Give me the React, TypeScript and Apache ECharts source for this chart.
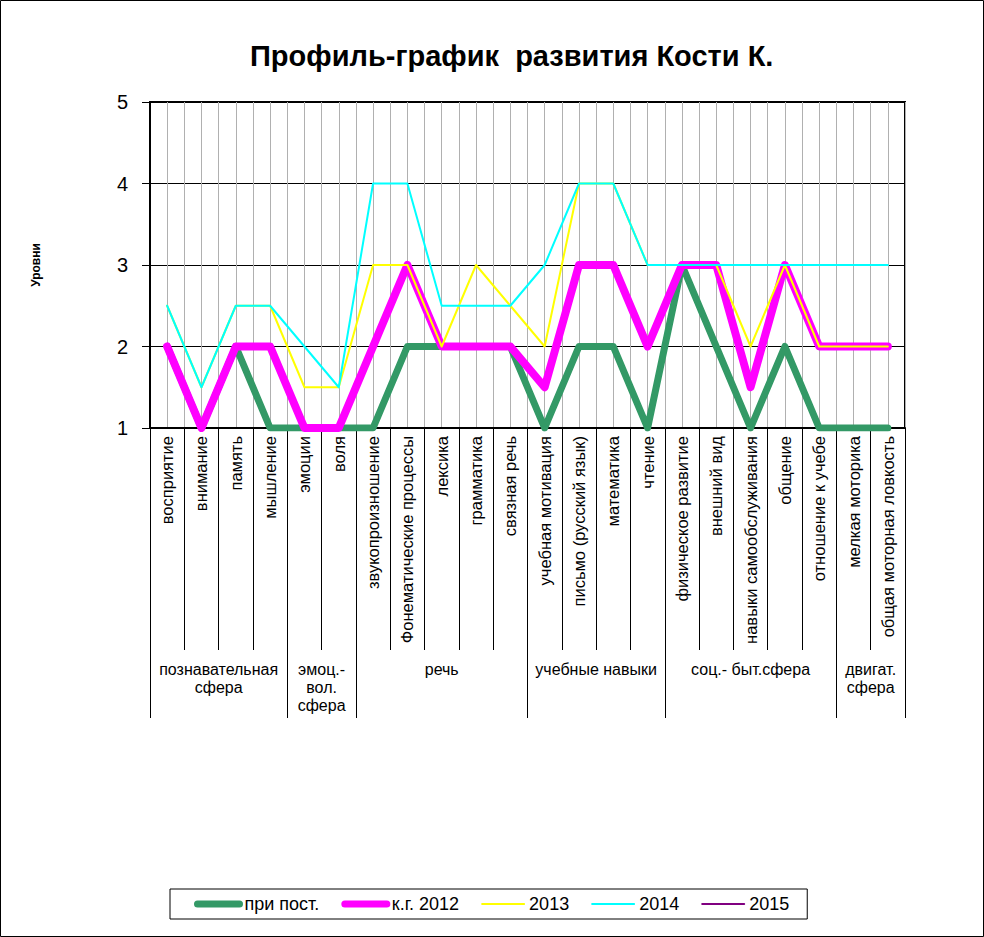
import React, { useEffect, useRef } from "react";
import * as echarts from "echarts";

const categories = [
  "восприятие",
  "внимание",
  "память",
  "мышление",
  "эмоции",
  "воля",
  "звукопроизношение",
  "Фонематические процессы",
  "лексика",
  "грамматика",
  "связная речь",
  "учебная мотивация",
  "письмо (русский язык)",
  "математика",
  "чтение",
  "физическое развитие",
  "внешний вид",
  "навыки самообслуживания",
  "общение",
  "отношение к учебе",
  "мелкая моторика",
  "общая моторная ловкость",
];

const groupNames = [
  "познавательная\nсфера",
  "эмоц.-\nвол.\nсфера",
  "речь",
  "учебные навыки",
  "соц.- быт.сфера",
  "двигат.\nсфера",
];
const groupSizes = [4, 2, 5, 4, 5, 2];

const priPost = [2, 1, 2, 1, 1, 1, 1, 2, 2, 2, 2, 1, 2, 2, 1, 3, 2, 1, 2, 1, 1, 1];
const kg2012 = [2, 1, 2, 2, 1, 1, 2, 3, 2, 2, 2, 1.5, 3, 3, 2, 3, 3, 1.5, 3, 2, 2, 2];
const y2013 = [2.5, 1.5, 2.5, 2.5, 1.5, 1.5, 3, 3, 2, 3, 2.5, 2, 4, 4, 3, 3, 3, 2, 3, 2, 2, 2];
const y2014 = [2.5, 1.5, 2.5, 2.5, 2, 1.5, 4, 4, 2.5, 2.5, 2.5, 3, 4, 4, 3, 3, 3, 3, 3, 3, 3, 3];
const y2015: (number | null)[] = [];

const yTicks = [1, 2, 3, 4, 5];

export default function App() {
  const ref = useRef<HTMLDivElement>(null);
  useEffect(() => {
    document.body.style.margin = "0";
    if (!ref.current) return;
    const chart = echarts.init(ref.current, null, { renderer: "svg" });

    const boundaries: number[] = [0];
    const centers: number[] = [];
    let acc = 0;
    groupSizes.forEach((s) => {
      centers.push(acc + s / 2);
      acc += s;
      boundaries.push(acc);
    });

    const font = "Arial, 'Liberation Sans', sans-serif";

    const mk = (name: string, data: any[], color: string, width: number) => ({
      name,
      type: "line",
      data,
      symbol: "none",
      xAxisIndex: 0,
      yAxisIndex: 0,
      lineStyle: { color, width, cap: "round", join: "round" },
      itemStyle: { color },
    });

    const hidden = { opacity: 0, borderWidth: 0 };

    chart.setOption({
      animation: false,
      backgroundColor: "#fff",
      textStyle: { fontFamily: font },
      title: {
        text: "Профиль-график  развития Кости К.",
        left: 245,
        top: 36,
        textStyle: { fontSize: 29, fontWeight: "bold", color: "#000", fontFamily: font },
      },
      graphic: [
        {
          type: "rect",
          shape: { x: 0.5, y: 0.5, width: 983, height: 936 },
          style: { fill: "none", stroke: "#000", lineWidth: 1 },
          silent: true,
        },
      ],
      legend: {
        left: 170,
        top: 889,
        padding: [6, 18, 6, 24],
        borderColor: "#000",
        borderWidth: 1,
        itemGap: 22,
        itemWidth: 42,
        itemHeight: 12,
        textStyle: { fontSize: 18, color: "#000", fontFamily: font },
        data: [
          { name: "при пост.", lineStyle: { width: 7 }, itemStyle: hidden },
          { name: "к.г. 2012", lineStyle: { width: 7 }, itemStyle: hidden },
          { name: "2013", lineStyle: { width: 2 }, itemStyle: hidden },
          { name: "2014", lineStyle: { width: 2 }, itemStyle: hidden },
          { name: "2015", lineStyle: { width: 2 }, itemStyle: hidden },
        ],
      },
      grid: {
        left: 150,
        right: 79,
        top: 102,
        bottom: 509,
        show: true,
        borderColor: "#000",
        borderWidth: 2,
        backgroundColor: "transparent",
      },
      xAxis: [
        {
          type: "category",
          data: categories,
          position: "bottom",
          boundaryGap: true,
          axisLine: { show: true, lineStyle: { color: "#000", width: 2 } },
          axisTick: { show: true, interval: 0, length: 222, lineStyle: { color: "#000", width: 1 } },
          axisLabel: {
            interval: 0,
            rotate: 90,
            margin: 8,
            fontSize: 16.5,
            color: "#000",
            fontFamily: font,
          },
          splitLine: { show: false },
        },
        {
          type: "value",
          min: 0,
          max: 22,
          position: "bottom",
          offset: 222,
          axisLine: { show: false },
          axisTick: {
            show: true,
            customValues: boundaries,
            length: 68,
            lineStyle: { color: "#000", width: 1 },
          },
          axisLabel: {
            show: true,
            customValues: centers,
            margin: 10,
            fontSize: 16,
            lineHeight: 18,
            color: "#000",
            fontFamily: font,
            formatter: (v: number) => {
              const i = centers.findIndex((c) => Math.abs(c - v) < 1e-6);
              return i >= 0 ? groupNames[i] : "";
            },
          },
          splitLine: { show: false },
        },
        {
          type: "value",
          min: 0,
          max: 22,
          interval: 0.5,
          position: "bottom",
          axisLine: { show: false },
          axisTick: { show: false },
          axisLabel: { show: false },
          splitLine: { show: true, lineStyle: { color: "#b0b0b0", width: 1 } },
        },
      ],
      yAxis: {
        type: "value",
        min: yTicks[0],
        max: yTicks[yTicks.length - 1],
        interval: 1,
        name: "Уровни",
        nameLocation: "middle",
        nameGap: 108,
        nameRotate: 90,
        nameTextStyle: { fontSize: 12, fontWeight: "bold", color: "#000", fontFamily: font },
        axisLine: { show: true, lineStyle: { color: "#000", width: 2 } },
        axisTick: { show: true, length: 8, lineStyle: { color: "#000", width: 1 } },
        axisLabel: { fontSize: 20, color: "#000", margin: 22, fontFamily: font },
        splitLine: { show: true, lineStyle: { color: "#000", width: 1 } },
      },
      series: [
        mk("при пост.", priPost, "#339966", 7),
        mk("к.г. 2012", kg2012, "#FF00FF", 8),
        mk("2013", y2013, "#FFFF00", 2),
        mk("2014", y2014, "#00FFFF", 2),
        mk("2015", y2015, "#800080", 2),
      ],
    });

    return () => chart.dispose();
  }, []);

  return <div ref={ref} style={{ width: 984, height: 937 }} />;
}
